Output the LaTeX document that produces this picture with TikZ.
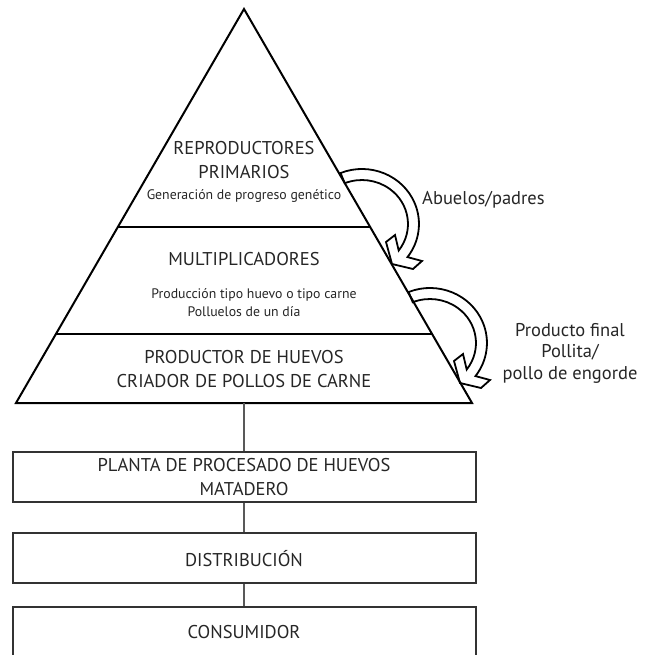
\documentclass[tikz,border=0pt]{standalone}
\usepackage{fontspec}
\setmainfont{PT Sans}
\usepackage{tikz}

\begin{document}
\begin{tikzpicture}[x=1pt, y=-1pt, every node/.style={text=black!85},
	big/.style={font=\fontsize{18.5}{24}\selectfont, align=center, inner sep=0pt},
	small/.style={font=\fontsize{13.8}{17}\selectfont, align=center, inner sep=0pt},
	level/.style={line width=2pt, draw=black},
	stage/.style={big, draw=black!80, line width=2pt, minimum width=463pt, minimum height=50pt},
	link/.style={draw=black!65, line width=1.5pt},
	bandarrow/.style={draw=black, line width=1.8pt, fill=white, line join=miter}]
	\useasboundingbox (0,0) rectangle (647,655);
	\coordinate (top) at (244,9);
	\coordinate (bl) at (16,403);
	\coordinate (br) at (472,403);
	\coordinate (base) at (244,403);
	\foreach \cx/\cy in {362/224, 430/343}
		\draw[bandarrow, shift={(\cx,\cy)}] (-21.4,-51.0) arc[start angle=-112, end angle=37, x radius=57, y radius=55] -- (60,37) -- (51,45) -- (30,40) -- (24,18) -- (33,11) -- (36.7,26.5) arc[start angle=37, end angle=-112, x radius=46, y radius=44] -- cycle;
	\draw[level] (top) -- (br) -- (bl) -- cycle;
	\draw[level] (118,227) -- (370,227);
	\draw[level] (56,334) -- (432,334);
	\node[big] (repro) at (244,160) {REPRODUCTORES\\PRIMARIOS};
	\node[small] (gen) at (244,196) {Generación de progreso genético};
	\node[big] (multi) at (244,259) {MULTIPLICADORES};
	\node[small] (prod) at (254,295) {Producción tipo huevo o tipo carne};
	\node[small] (pollu) at (244,312) {Polluelos de un día};
	\node[big] (huevos) at (244,369) {PRODUCTOR DE HUEVOS\\CRIADOR DE POLLOS DE CARNE};
	\node[stage] (planta) at (244,476.7) {PLANTA DE PROCESADO DE HUEVOS\\MATADERO};
	\node[stage] (distrib) at (244,558.3) {DISTRIBUCIÓN};
	\node[stage] (consum) at (244,631.7) {CONSUMIDOR};
	\draw[link] (base) -- (planta);
	\draw[link] (planta) -- (distrib);
	\draw[link] (distrib) -- (consum);
	\node[big, anchor=west] (abuelos) at (422,200) {Abuelos/padres};
	\node[big, font=\fontsize{18.5}{21.5}\selectfont] (final) at (570,353) {Producto final\\Pollita/\\pollo de engorde};
\end{tikzpicture}
\end{document}
